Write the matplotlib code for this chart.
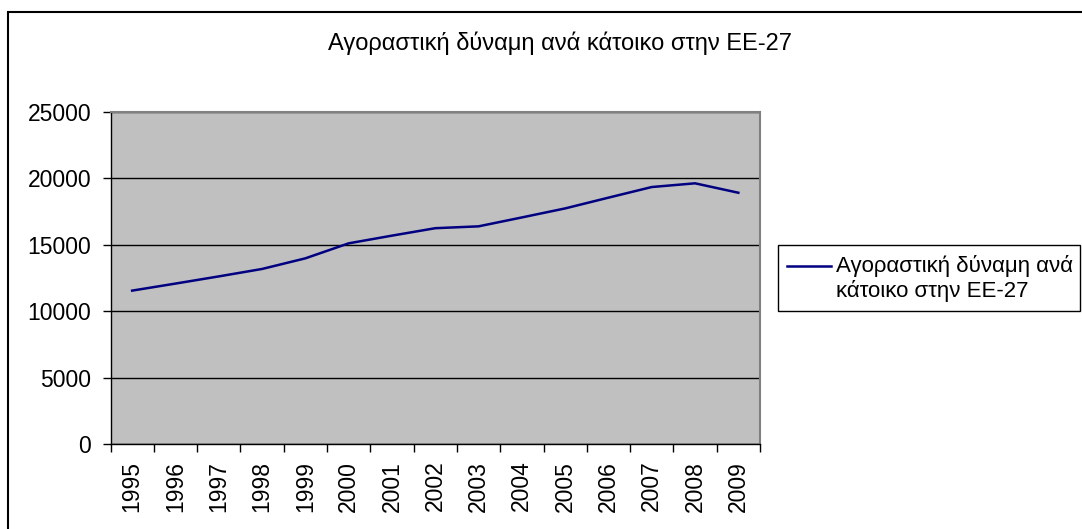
import matplotlib.pyplot as plt
import numpy as np
from matplotlib.patches import Rectangle
from matplotlib.lines import Line2D

plt.rcParams['font.family'] = ['Liberation Sans', 'DejaVu Sans']

# --- dados ---
anos = ['1995', '1996', '1997', '1998', '1999', '2000', '2001', '2002',
        '2003', '2004', '2005', '2006', '2007', '2008', '2009']
valores = [11550, 12080, 12620, 13180, 13980, 15110, 15690, 16250,
           16390, 17060, 17740, 18550, 19350, 19630, 18920]
titulo = 'Αγοραστική δύναμη ανά κάτοικο στην ΕΕ-27'
legenda_1 = 'Αγοραστική δύναμη ανά'
legenda_2 = 'κάτοικο στην ΕΕ-27'
y_ticks = [0, 5000, 10000, 15000, 20000, 25000]

W, H = 1082, 529
fig = plt.figure(figsize=(W / 100, H / 100), dpi=100)
fig.patch.set_facecolor('white')

def fx(px):
    return px / W

def fy(py):
    return 1 - py / H

# moldura externa (sai pela direita e por baixo)
fig.patches.append(Rectangle((fx(8), -0.2), 2, fy(12) + 0.2, transform=fig.transFigure,
                             fill=False, edgecolor='black', linewidth=1.5))

ax = fig.add_axes([fx(110.5), fy(444), fx(760) - fx(110.5), fy(112) - fy(444)])
ax.set_facecolor('#C0C0C0')

x = np.arange(len(anos))
ax.plot(x, valores, color='#000080', linewidth=1.8, zorder=3)

ax.set_xlim(-0.5, len(anos) - 0.5)
ax.set_ylim(0, 25000)
ax.set_yticks(y_ticks)
ax.set_yticklabels([str(v) for v in y_ticks])
ax.yaxis.grid(True, color='black', linewidth=1)
ax.set_axisbelow(True)

ax.set_xticks(x)
ax.set_xticklabels(anos, rotation=90)
ax.set_xticks(np.arange(-0.5, len(anos)), minor=True)
ax.tick_params(axis='x', which='major', length=0, pad=12, labelsize=16.5)
ax.tick_params(axis='x', which='minor', length=6, width=1, color='black')
ax.tick_params(axis='y', length=6, width=1, pad=8, labelsize=16.5)

for lado in ['left', 'bottom']:
    ax.spines[lado].set_color('black')
    ax.spines[lado].set_linewidth(1)
for lado in ['top', 'right']:
    ax.spines[lado].set_color('#808080')
    ax.spines[lado].set_linewidth(1.5)

fig.text(fx(560), fy(43), titulo, ha='center', va='center', fontsize=17)

# legenda desenhada a mão
fig.patches.append(Rectangle((fx(778), fy(311)), fx(1080) - fx(778), fy(245) - fy(311),
                             transform=fig.transFigure, facecolor='white',
                             edgecolor='black', linewidth=1))
fig.lines.append(Line2D([fx(787), fx(831)], [fy(266), fy(266)], transform=fig.transFigure,
                        color='#000080', linewidth=1.8))
fig.text(fx(836), fy(266), legenda_1, ha='left', va='center', fontsize=16)
fig.text(fx(836), fy(291), legenda_2, ha='left', va='center', fontsize=16)

plt.savefig('out.png', dpi=100)
